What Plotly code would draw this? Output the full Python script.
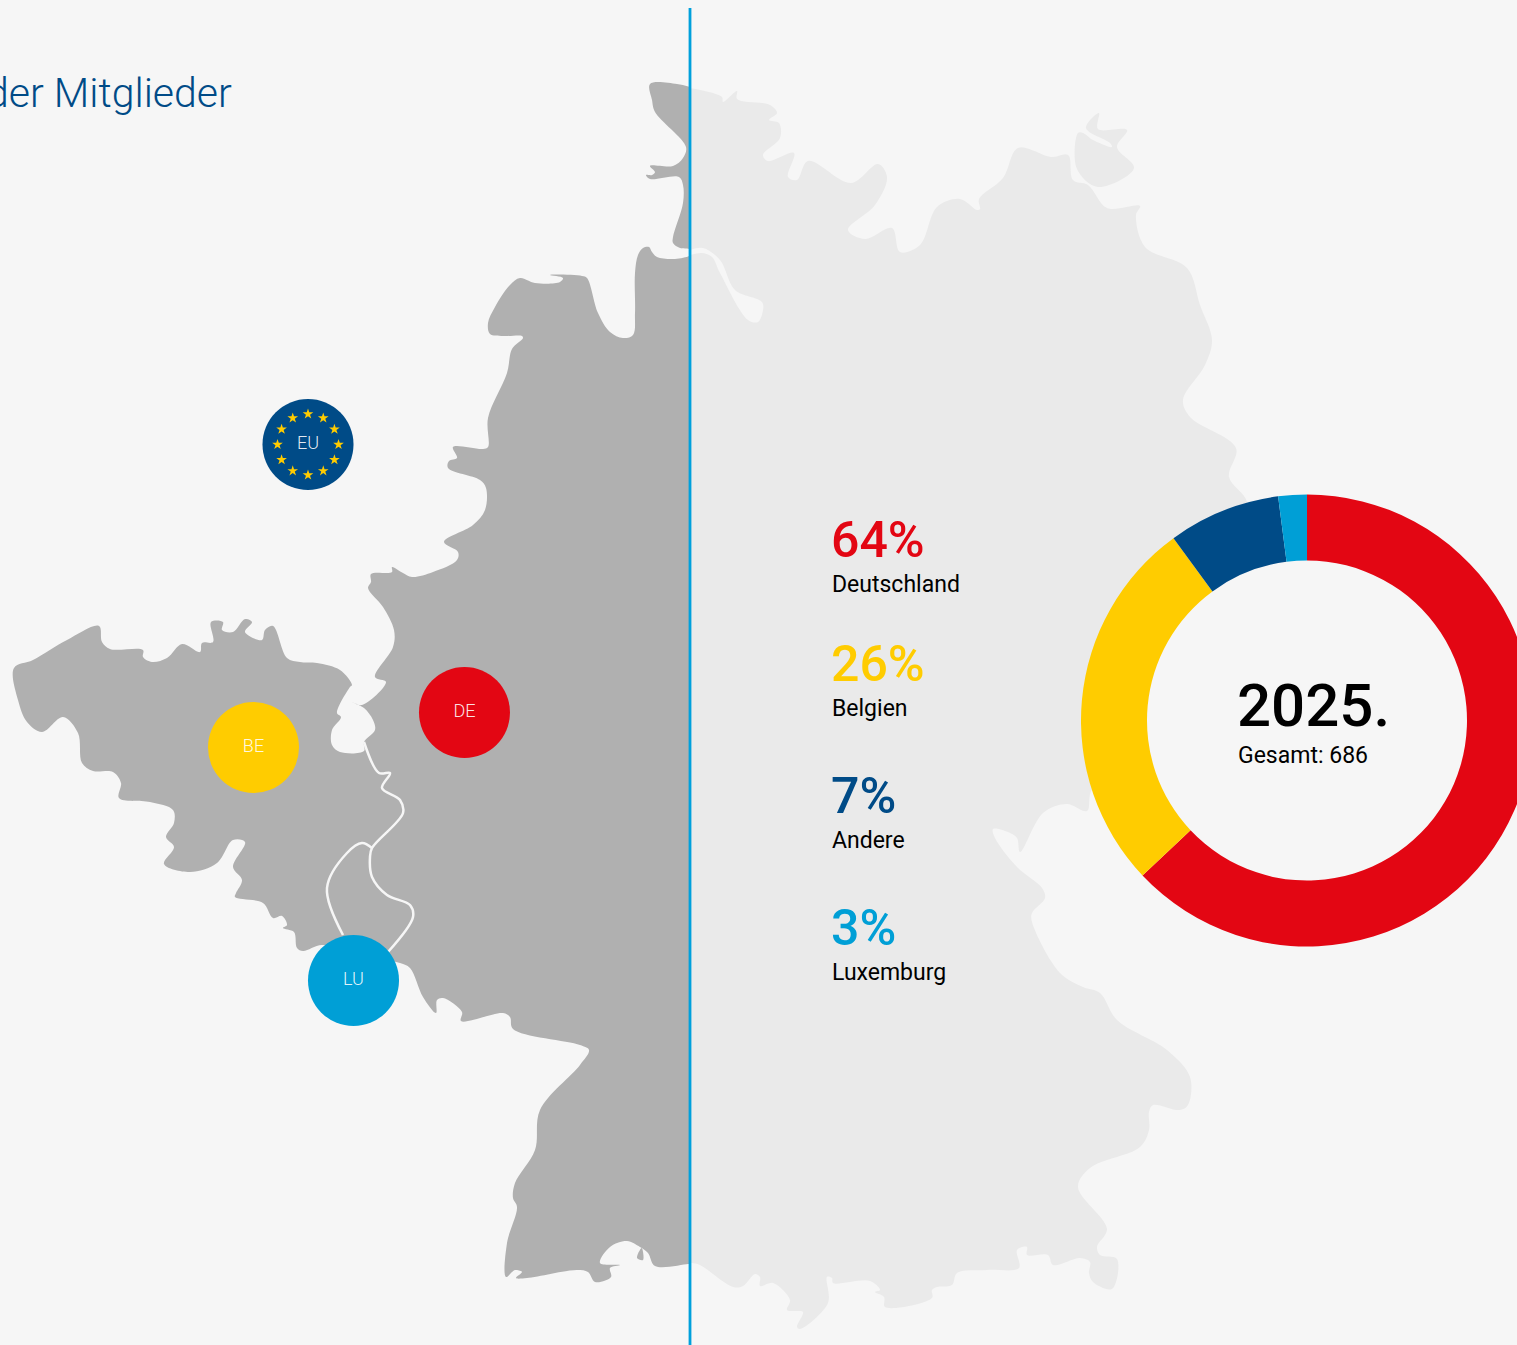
import math
import plotly.graph_objects as go

W, H = 1600, 1345
BG = "#f6f6f6"
DARK = "#b0b0b0"
LIGHT = "#eaeaea"
RED, YELLOW, NAVY, CYAN = "#e30613", "#ffcc00", "#004b87", "#009fd6"
FONT = "Roboto"

# donut
donut_labels = ["Deutschland", "Belgien", "Andere", "Luxemburg"]
donut_values = [432, 185, 55, 14]
donut_colors = [RED, YELLOW, NAVY, CYAN]

# legend
legend_pct = ["64%", "26%", "7%", "3%"]
legend_names = ["Deutschland", "Belgien", "Andere", "Luxemburg"]
legend_colors = [RED, YELLOW, NAVY, CYAN]
legend_pct_y = [540, 664, 796, 928]
legend_name_y = [584.5, 708.5, 840.5, 972.5]

# country bubbles
bubble_labels = ["EU", "BE", "DE", "LU"]
bubble_x = [308, 253.5, 464.5, 353.5]
bubble_y = [444.5, 747.5, 712.5, 980.5]
bubble_colors = [NAVY, YELLOW, RED, CYAN]

# map outline, west half (dark)
west = [(690,87),(677,84),(650,84),(652,100),(655,112),(686,147),(683,158),(673,166),(650,166),(655,172),(652,175),(646,175),(650,179),(679,177),(683,185),(683,203),(673,237),(673,243),(680,248),(689,249),(690,250),(690,255),(689,256),(675,259),(657,257),(652,252),(649,247),(643,248),(638,255),(635,273),(635,313),(633,335),(623,338),(610,332),(598,313),(587,278),(582,276),(550,275),(563,278),(560,282),(535,283),(520,278),(510,285),(495,307),(488,323),(490,334),(503,336),(522,336),(523,338),(512,349),(507,373),(488,418),(488,447),(483,449),(453,447),(457,458),(449,461),(448,468),(480,480),(486,488),(485,510),(473,525),(444,542),(458,552),(457,560),(433,572),(412,577),(403,573),(392,567),(392,572),(371,574),(371,582),(368,588),(383,607),(394,630),(393,647),(375,677),(386,682),(362,705),(352,702),(364,708),(373,720),(375,730),(364,742),(364,751),(340,752),(332,745),(332,730),(341,717),(337,713),(350,687),(352,685),(340,670),(317,663),(300,662),(287,658),(273,626),(265,630),(262,640),(245,632),(252,622),(245,619),(233,632),(222,630),(223,622),(211,622),(213,642),(202,643),(200,652),(182,644),(167,658),(152,662),(143,657),(143,650),(110,649),(102,642),(99,626),(67,640),(33,660),(14,668),(18,700),(27,722),(42,732),(63,717),(78,733),(82,763),(93,771),(113,772),(121,783),(119,798),(150,802),(173,810),(174,823),(166,837),(174,847),(164,864),(190,872),(217,863),(233,840),(245,842),(233,867),(242,880),(236,893),(235,897),(263,903),(273,918),(282,916),(287,925),(283,928),(294,932),(297,948),(303,951),(322,945),(360,955),(400,963),(410,968),(423,997),(436,1013),(437,1000),(443,998),(462,1012),(461,1021),(503,1013),(510,1017),(513,1029),(580,1045),(589,1050),(580,1065),(540,1110),(535,1150),(515,1183),(513,1198),(517,1207),(507,1243),(506,1277),(515,1270),(522,1272),(516,1278),(527,1278),(577,1270),(588,1272),(595,1282),(611,1277),(610,1268),(620,1265),(600,1263),(610,1247),(627,1241),(640,1247),(648,1253),(655,1266),(688,1264),(690,1264)]
west_drop = [(641.7,1248),(637,1258),(643,1260),(641.7,1248)]

# map outline, east half (light)
east = [(690,88),(722,97),(723,102),(737,91),(737,99),(770,105),(777,113),(769,120),(779,123),(780,138),(763,155),(768,161),(794,153),(788,177),(797,180),(808,161),(851,183),(878,164),(887,177),(875,205),(848,230),(865,239),(892,228),(900,252),(920,245),(937,207),(960,199),(977,210),(980,209),(979,199),(1003,178),(1018,148),(1051,157),(1068,155),(1073,180),(1088,185),(1107,208),(1140,206),(1136,215),(1145,247),(1187,268),(1200,305),(1212,340),(1205,365),(1183,400),(1190,417),(1236,448),(1229,477),(1247,502),(1241,539),(1170,584),(1114,720),(1123,780),(1092,790),(1087,811),(1067,804),(1043,813),(1020,852),(1017,838),(1008,832),(993,829),(995,838),(1017,867),(1042,888),(1045,898),(1032,913),(1032,922),(1060,973),(1083,987),(1100,993),(1117,1020),(1167,1050),(1190,1077),(1188,1105),(1180,1110),(1153,1105),(1149,1112),(1149,1130),(1140,1147),(1090,1168),(1078,1187),(1107,1229),(1097,1247),(1100,1255),(1117,1259),(1112,1289),(1093,1282),(1089,1273),(1090,1262),(1080,1258),(1053,1265),(1048,1255),(1027,1255),(1027,1247),(1017,1250),(1019,1268),(987,1270),(957,1273),(952,1285),(937,1287),(932,1290),(932,1298),(885,1307),(884,1297),(875,1292),(880,1290),(870,1281),(833,1283),(832,1278),(827,1277),(828,1303),(800,1329),(797,1327),(803,1312),(795,1311),(787,1310),(790,1300),(773,1283),(760,1286),(760,1277),(755,1274),(743,1286),(733,1287),(700,1265),(692,1263),(690,1263)]
river = [(690,250),(703,248),(720,260),(735,290),(762,302),(763,310),(758,322),(748,320),(720,273),(712,257),(702,253),(690,255)]
island = [(1099,113),(1086,128),(1110,143),(1112,147),(1093,140),(1083,133),(1078,133),(1077,169),(1098,187),(1134,168),(1117,147),(1127,130),(1098,129),(1099,113)]

# border lines
border_main = [(364,742),(379,773),(390,773),(382,788),(400,800),(403,813),(372,848),(370,857),(372,877),(387,895),(410,905),(413,917),(388,952)]
border_lux = [(372,848),(362,843),(347,853),(327,888),(343,935)]

fig = go.Figure()

def poly(pts, color):
    fig.add_trace(go.Scatter(x=[p[0] for p in pts], y=[p[1] for p in pts], mode="lines",
                             fill="toself", fillcolor=color,
                             line=dict(color=color, width=0, shape="spline", smoothing=1.0),
                             hoverinfo="skip", showlegend=False))

def line(pts, color, width):
    fig.add_trace(go.Scatter(x=[p[0] for p in pts], y=[p[1] for p in pts], mode="lines",
                             line=dict(color=color, width=width, shape="spline", smoothing=1.0),
                             hoverinfo="skip", showlegend=False))

poly(east, LIGHT)
poly(island, LIGHT)
poly(river, BG)
poly(west, DARK)
poly(west_drop, DARK)
line(border_main, BG, 2.5)
line(border_lux, BG, 2.5)

# divider
fig.add_trace(go.Scatter(x=[690, 690], y=[8, 1345], mode="lines",
                         line=dict(color="#00a0dc", width=2.8), hoverinfo="skip", showlegend=False))

# bubbles
fig.add_trace(go.Scatter(x=bubble_x, y=bubble_y, mode="markers+text", text=bubble_labels,
                         textposition="middle center",
                         textfont=dict(family=FONT, size=18, color="rgba(255,255,255,0.9)", weight=300),
                         marker=dict(size=91, color=bubble_colors, line=dict(width=0)),
                         hoverinfo="skip", showlegend=False))

# EU star ring
star_angles = [i * 30 for i in range(12)]
fig.add_trace(go.Scatter(x=[bubble_x[0] + 30.5 * math.sin(math.radians(a)) for a in star_angles],
                         y=[bubble_y[0] + 30.5 * math.cos(math.radians(a)) for a in star_angles],
                         mode="markers", marker=dict(symbol="star", size=8, color=YELLOW, line=dict(width=0)),
                         hoverinfo="skip", showlegend=False))

# donut
cx, cy, R = 1307, 720.5, 226
fig.add_trace(go.Pie(labels=donut_labels, values=donut_values, sort=False, direction="clockwise",
                     rotation=0, hole=160 / 226, textinfo="none", hoverinfo="skip", showlegend=False,
                     marker=dict(colors=donut_colors, line=dict(width=0)),
                     domain=dict(x=[(cx - R) / W, (cx + R) / W], y=[1 - (cy + R) / H, 1 - (cy - R) / H])))

anns = []
def text(x, y, s, size, color, weight=400, anchor="left"):
    anns.append(dict(x=x, y=y, xref="x", yref="y", text=s, showarrow=False, xanchor=anchor, yanchor="middle",
                     font=dict(family=FONT, size=size, color=color, weight=weight), borderpad=0))

for p, n, c, yp, yn in zip(legend_pct, legend_names, legend_colors, legend_pct_y, legend_name_y):
    text(830, yp, p, 50, c, 500)
    text(831, yn, n, 23, "#000000", 400)
text(1236, 705, "2025.", 60, "#000000", 500)
text(1237, 755.5, "Gesamt: 686", 23, "#000000", 400)
text(233, 93, "der Mitglieder", 41, "#004b87", 300, "right")

fig.update_layout(width=W, height=H, margin=dict(l=0, r=0, t=0, b=0), autosize=False,
                  paper_bgcolor=BG, plot_bgcolor=BG, annotations=anns, showlegend=False,
                  xaxis=dict(range=[0, W], visible=False, fixedrange=True),
                  yaxis=dict(range=[H, 0], visible=False, fixedrange=True))

fig.write_html("out.html", config=dict(displayModeBar=False),
               post_script="document.body.style.margin='0';document.body.style.background='#f6f6f6';"
                           "document.documentElement.style.overflow='hidden';document.body.style.overflow='hidden';")
